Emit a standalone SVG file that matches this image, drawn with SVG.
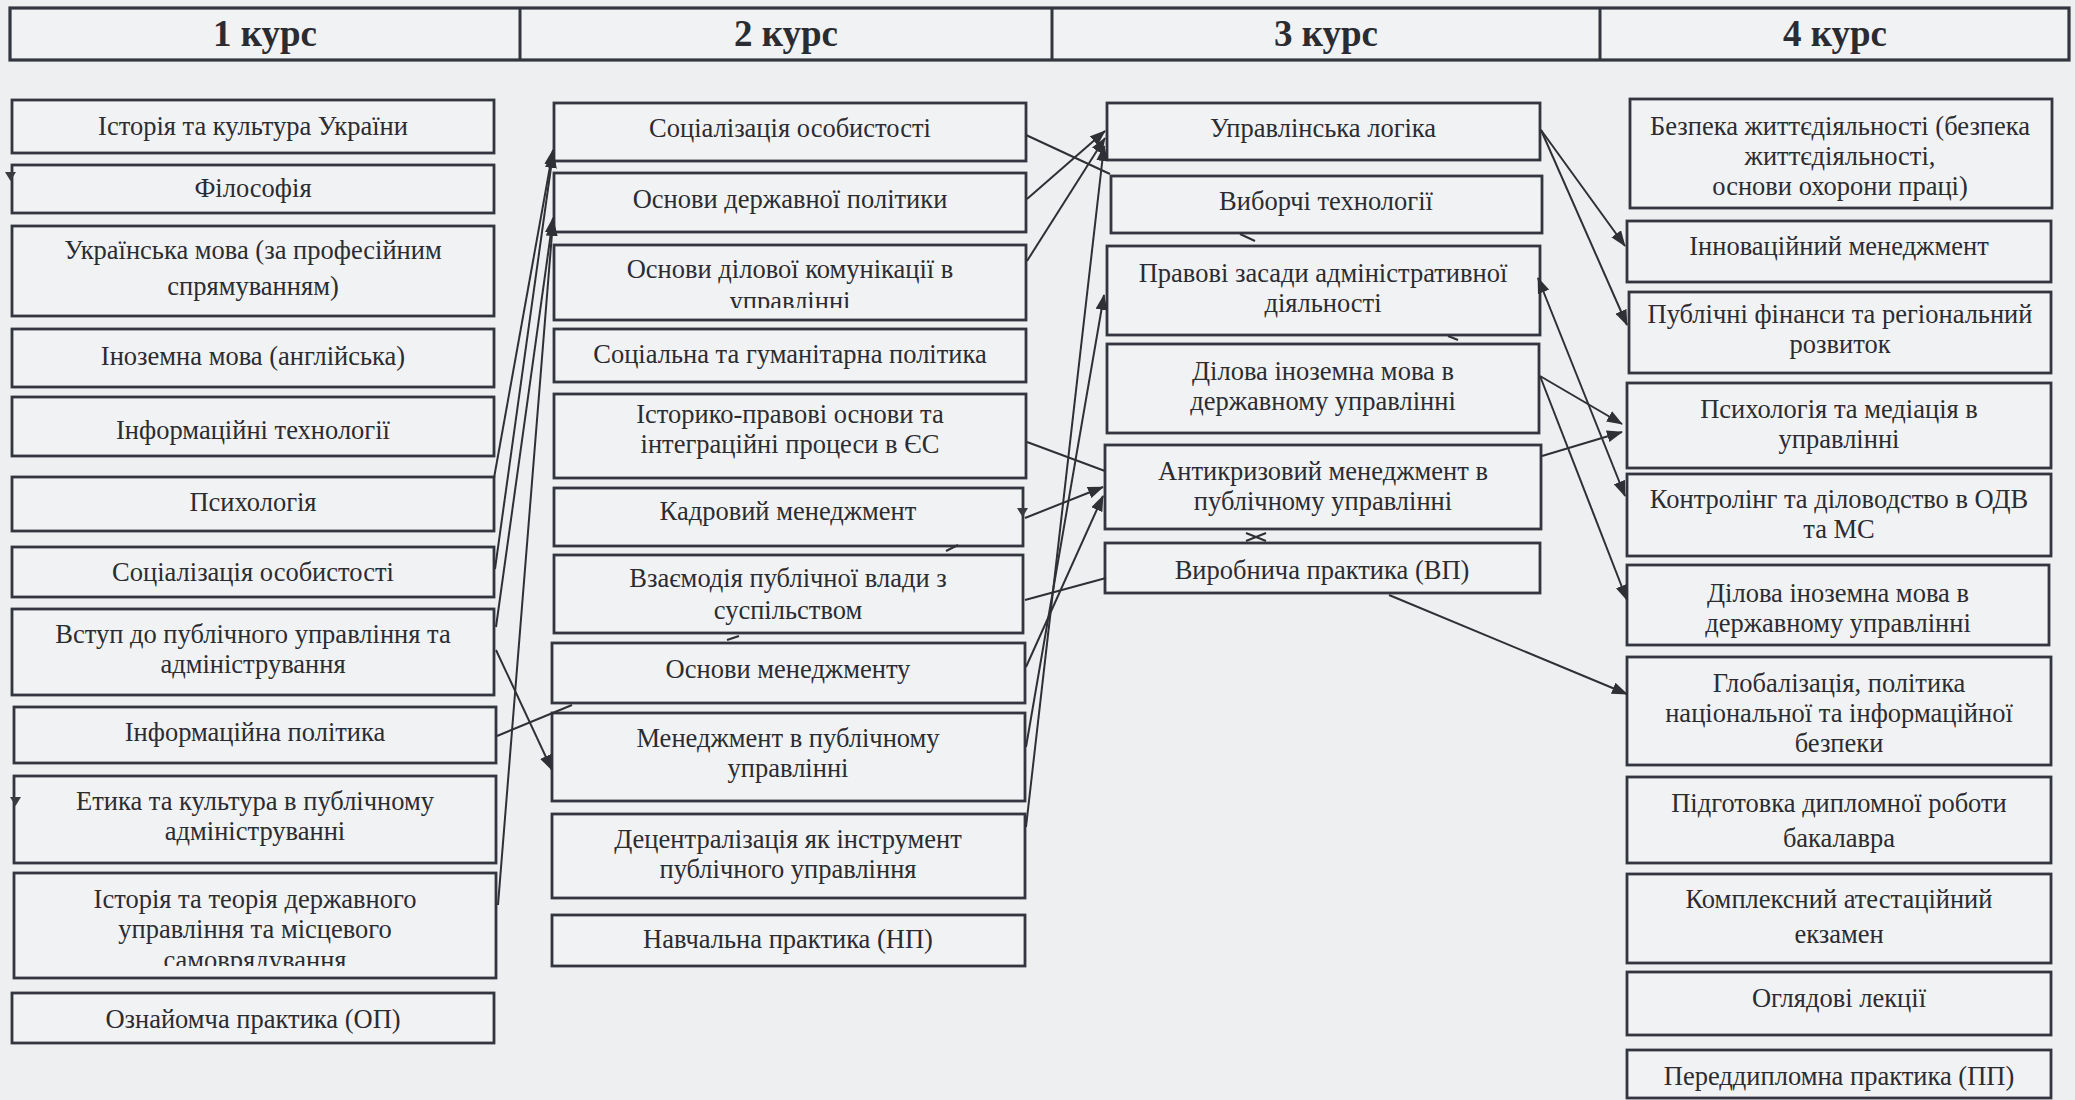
<svg xmlns="http://www.w3.org/2000/svg" width="2075" height="1100" viewBox="0 0 2075 1100">
<defs>
<style>
.bg{fill:#eeeff1}
.box{fill:#f1f2f4;stroke:#33363f;stroke-width:2.8}
.hb{fill:#f1f2f4;stroke:#33363f;stroke-width:3.2}
.t{font-family:"Liberation Serif","Times New Roman",serif;font-size:26.5px;fill:#2b2c31;text-anchor:middle}
.h{font-family:"Liberation Serif","Times New Roman",serif;font-size:37px;font-weight:bold;fill:#2b2c31;text-anchor:middle}
.c{stroke:#2f3036;stroke-width:2;fill:none}
.a{stroke:#2f3036;stroke-width:2;fill:none;marker-end:url(#ah)}
.m{fill:#3a3b40}
</style>
<marker id="ah" markerUnits="userSpaceOnUse" markerWidth="16" markerHeight="12" refX="15" refY="6" orient="auto-start-reverse">
<path d="M0,0 L16,6 L0,12 z" fill="#2f3036"/>
</marker>
<clipPath id="clip1"><rect x="14" y="873" width="482" height="93"/></clipPath>
<clipPath id="clip2"><rect x="554" y="245" width="472" height="63"/></clipPath>
</defs>
<rect class="bg" x="0" y="0" width="2075" height="1100"/>

<g id="header">
<rect class="hb" x="10" y="8" width="2059" height="52"/>
<line x1="520" y1="8" x2="520" y2="60" stroke="#33363f" stroke-width="3"/>
<line x1="1052" y1="8" x2="1052" y2="60" stroke="#33363f" stroke-width="3"/>
<line x1="1600" y1="8" x2="1600" y2="60" stroke="#33363f" stroke-width="3"/>
<text class="h" x="265" y="46">1 курс</text>
<text class="h" x="786" y="46">2 курс</text>
<text class="h" x="1326" y="46">3 курс</text>
<text class="h" x="1835" y="46">4 курс</text>
</g>

<!-- Column 1 -->
<g id="c1n1"><rect class="box" x="12" y="100" width="482" height="53"/><text class="t" x="253" y="135">Історія та культура України</text></g>
<g id="c1n2"><rect class="box" x="12" y="165" width="482" height="48"/><text class="t" x="253" y="197">Філософія</text></g>
<g id="c1n3"><rect class="box" x="12" y="226" width="482" height="90"/><text class="t" x="253" y="259">Українська мова (за професійним</text><text class="t" x="253" y="295">спрямуванням)</text></g>
<g id="c1n4"><rect class="box" x="12" y="329" width="482" height="58"/><text class="t" x="253" y="365">Іноземна мова (англійська)</text></g>
<g id="c1n5"><rect class="box" x="12" y="397" width="482" height="59"/><text class="t" x="253" y="439">Інформаційні технології</text></g>
<g id="c1n6"><rect class="box" x="12" y="477" width="482" height="54"/><text class="t" x="253" y="511">Психологія</text></g>
<g id="c1n7"><rect class="box" x="12" y="547" width="482" height="50"/><text class="t" x="253" y="581">Соціалізація особистості</text></g>
<g id="c1n8"><rect class="box" x="12" y="609" width="482" height="86"/><text class="t" x="253" y="643">Вступ до публічного управління та</text><text class="t" x="253" y="673">адміністрування</text></g>
<g id="c1n9"><rect class="box" x="14" y="707" width="482" height="56"/><text class="t" x="255" y="741">Інформаційна політика</text></g>
<g id="c1n10"><rect class="box" x="14" y="776" width="482" height="87"/><text class="t" x="255" y="810">Етика та культура в публічному</text><text class="t" x="255" y="840">адмініструванні</text></g>
<g id="c1n11"><rect class="box" x="14" y="873" width="482" height="105"/><g clip-path="url(#clip1)"><text class="t" x="255" y="908">Історія та теорія державного</text><text class="t" x="255" y="938">управління та місцевого</text><text class="t" x="255" y="969">самоврядування</text></g></g>
<g id="c1n12"><rect class="box" x="12" y="993" width="482" height="50"/><text class="t" x="253" y="1028">Ознайомча практика (ОП)</text></g>

<!-- Column 2 -->
<g id="c2n1"><rect class="box" x="554" y="103" width="472" height="58"/><text class="t" x="790" y="137">Соціалізація особистості</text></g>
<g id="c2n2"><rect class="box" x="554" y="173" width="472" height="59"/><text class="t" x="790" y="208">Основи державної політики</text></g>
<g id="c2n3"><rect class="box" x="554" y="245" width="472" height="75"/><g clip-path="url(#clip2)"><text class="t" x="790" y="278">Основи ділової комунікації в</text><text class="t" x="790" y="310">управлінні</text></g></g>
<g id="c2n4"><rect class="box" x="554" y="329" width="472" height="53"/><text class="t" x="790" y="363">Соціальна та гуманітарна політика</text></g>
<g id="c2n5"><rect class="box" x="554" y="394" width="472" height="84"/><text class="t" x="790" y="423">Історико-правові основи та</text><text class="t" x="790" y="453">інтеграційні процеси в ЄС</text></g>
<g id="c2n6"><rect class="box" x="554" y="488" width="469" height="58"/><text class="t" x="788" y="520">Кадровий менеджмент</text></g>
<g id="c2n7"><rect class="box" x="554" y="555" width="469" height="78"/><text class="t" x="788" y="587">Взаємодія публічної влади з</text><text class="t" x="788" y="619">суспільством</text></g>
<g id="c2n8"><rect class="box" x="552" y="643" width="473" height="60"/><text class="t" x="788" y="678">Основи менеджменту</text></g>
<g id="c2n9"><rect class="box" x="552" y="713" width="473" height="88"/><text class="t" x="788" y="747">Менеджмент в публічному</text><text class="t" x="788" y="777">управлінні</text></g>
<g id="c2n10"><rect class="box" x="552" y="814" width="473" height="84"/><text class="t" x="788" y="848">Децентралізація як інструмент</text><text class="t" x="788" y="878">публічного управління</text></g>
<g id="c2n11"><rect class="box" x="552" y="915" width="473" height="51"/><text class="t" x="788" y="948">Навчальна практика (НП)</text></g>

<!-- Column 3 -->
<g id="c3n1"><rect class="box" x="1107" y="103" width="433" height="57"/><text class="t" x="1323" y="137">Управлінська логіка</text></g>
<g id="c3n2"><rect class="box" x="1111" y="176" width="431" height="57"/><text class="t" x="1326" y="210">Виборчі технології</text></g>
<g id="c3n3"><rect class="box" x="1107" y="246" width="433" height="89"/><text class="t" x="1323" y="282">Правові засади адміністративної</text><text class="t" x="1323" y="312">діяльності</text></g>
<g id="c3n4"><rect class="box" x="1107" y="344" width="432" height="89"/><text class="t" x="1323" y="380">Ділова іноземна мова в</text><text class="t" x="1323" y="410">державному управлінні</text></g>
<g id="c3n5"><rect class="box" x="1105" y="445" width="436" height="84"/><text class="t" x="1323" y="480">Антикризовий менеджмент в</text><text class="t" x="1323" y="510">публічному управлінні</text></g>
<g id="c3n6"><rect class="box" x="1105" y="543" width="435" height="50"/><text class="t" x="1322" y="579">Виробнича практика (ВП)</text></g>

<!-- Column 4 -->
<g id="c4n1"><rect class="box" x="1630" y="99" width="422" height="109"/><text class="t" x="1840" y="135">Безпека життєдіяльності (безпека</text><text class="t" x="1840" y="165">життєдіяльності,</text><text class="t" x="1840" y="195">основи охорони праці)</text></g>
<g id="c4n2"><rect class="box" x="1627" y="221" width="424" height="61"/><text class="t" x="1839" y="255">Інноваційний менеджмент</text></g>
<g id="c4n3"><rect class="box" x="1629" y="292" width="422" height="81"/><text class="t" x="1840" y="323">Публічні фінанси та регіональний</text><text class="t" x="1840" y="353">розвиток</text></g>
<g id="c4n4"><rect class="box" x="1627" y="383" width="424" height="85"/><text class="t" x="1839" y="418">Психологія та медіація в</text><text class="t" x="1839" y="448">управлінні</text></g>
<g id="c4n5"><rect class="box" x="1627" y="474" width="424" height="82"/><text class="t" x="1839" y="508">Контролінг та діловодство в ОДВ</text><text class="t" x="1839" y="538">та МС</text></g>
<g id="c4n6"><rect class="box" x="1627" y="565" width="422" height="80"/><text class="t" x="1838" y="602">Ділова іноземна мова в</text><text class="t" x="1838" y="632">державному управлінні</text></g>
<g id="c4n7"><rect class="box" x="1627" y="657" width="424" height="108"/><text class="t" x="1839" y="692">Глобалізація, політика</text><text class="t" x="1839" y="722">національної та інформаційної</text><text class="t" x="1839" y="752">безпеки</text></g>
<g id="c4n8"><rect class="box" x="1627" y="777" width="424" height="86"/><text class="t" x="1839" y="812">Підготовка дипломної роботи</text><text class="t" x="1839" y="847">бакалавра</text></g>
<g id="c4n9"><rect class="box" x="1627" y="874" width="424" height="89"/><text class="t" x="1839" y="908">Комплексний атестаційний</text><text class="t" x="1839" y="943">екзамен</text></g>
<g id="c4n10"><rect class="box" x="1627" y="972" width="424" height="63"/><text class="t" x="1839" y="1007">Оглядові лекції</text></g>
<g id="c4n11"><rect class="box" x="1627" y="1050" width="424" height="48"/><text class="t" x="1839" y="1085">Переддипломна практика (ПП)</text></g>

<g id="connectors">
<line class="a" x1="494" y1="478" x2="553" y2="150"/>
<line class="a" x1="495" y1="569" x2="553" y2="153"/>
<line class="a" x1="496" y1="627" x2="553" y2="218"/>
<line class="a" x1="498" y1="905" x2="553" y2="221"/>
<line class="a" x1="496" y1="650" x2="552" y2="770"/>
<line class="c" x1="497" y1="736" x2="572" y2="705"/>
<line class="c" x1="1026" y1="135" x2="1110" y2="174"/>
<line class="a" x1="1027" y1="199" x2="1105" y2="131"/>
<line class="a" x1="1027" y1="261" x2="1105" y2="138"/>
<line class="a" x1="1026" y1="827" x2="1104" y2="146"/>
<line class="a" x1="1026" y1="747" x2="1104" y2="295"/>
<line class="c" x1="1027" y1="442" x2="1105" y2="471"/>
<line class="a" x1="1025" y1="518" x2="1103" y2="487"/>
<line class="a" x1="1026" y1="667" x2="1103" y2="496"/>
<line class="c" x1="1025" y1="600" x2="1106" y2="578"/>
<line class="a" x1="1541" y1="130" x2="1625" y2="246"/>
<line class="a" x1="1541" y1="130" x2="1627" y2="325"/>
<line class="a" x1="1538" y1="278" x2="1625" y2="496" style="marker-start:url(#ah)"/>
<line class="a" x1="1540" y1="376" x2="1622" y2="424"/>
<line class="a" x1="1540" y1="376" x2="1627" y2="600"/>
<line class="a" x1="1542" y1="456" x2="1622" y2="432"/>
<line class="a" x1="1389" y1="595" x2="1627" y2="694"/>
<!-- small marks -->
<path class="m" d="M5,172 L16,172 L10.5,181 z"/>
<path class="m" d="M10,797 L21,797 L15.5,806 z"/>
<path class="m" d="M1017,508 L1028,508 L1022.5,517 z"/>
<line class="c" x1="946" y1="551" x2="958" y2="545"/>
<line class="c" x1="727" y1="640" x2="739" y2="636"/>
<line class="c" x1="1240" y1="234" x2="1255" y2="241"/>
<line class="c" x1="1448" y1="336" x2="1458" y2="340"/>
<line class="c" x1="1246" y1="533" x2="1266" y2="541"/>
<line class="c" x1="1246" y1="541" x2="1266" y2="533"/>
</g>
</svg>
